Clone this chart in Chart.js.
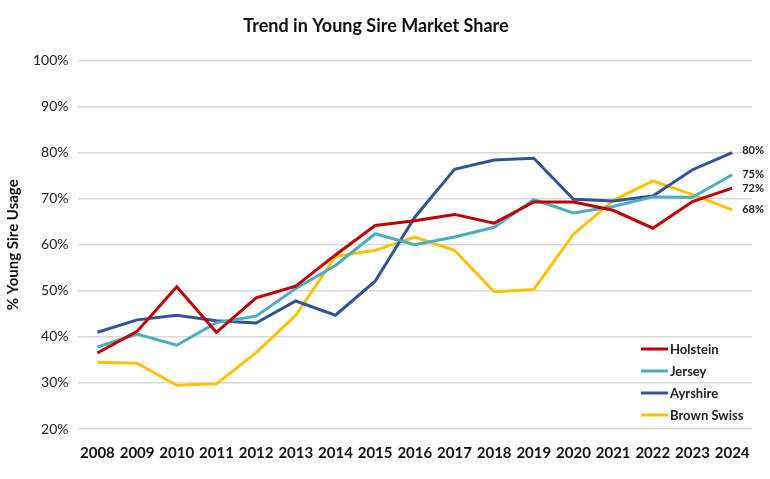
<!DOCTYPE html>
<html>
<head>
<meta charset="utf-8">
<script src="https://cdn.jsdelivr.net/npm/chart.js@4/dist/chart.umd.min.js"></script>
<style>
html,body{margin:0;padding:0;background:#fff;}
#wrap{width:770px;height:479px;position:relative;}
</style>
</head>
<body>
<div id="wrap"><canvas id="c" width="770" height="479"></canvas></div>
<script>
const years = ['2008','2009','2010','2011','2012','2013','2014','2015','2016','2017','2018','2019','2020','2021','2022','2023','2024'];
const holstein   = [36.5,41.2,50.9,41.0,48.5,51.0,57.8,64.2,65.2,66.6,64.7,69.3,69.3,67.5,63.6,69.4,72.3];
const jersey     = [37.8,40.6,38.2,43.1,44.5,50.5,55.5,62.4,60.0,61.7,63.8,69.8,66.9,68.3,70.4,70.3,75.2];
const ayrshire   = [41.0,43.7,44.7,43.5,43.0,47.8,44.7,52.1,66.0,76.4,78.4,78.8,69.9,69.5,70.6,76.3,80.0];
const brownSwiss = [34.5,34.3,29.5,29.8,36.6,44.7,57.5,58.8,61.7,58.8,49.8,50.3,62.3,69.6,73.9,70.9,67.6];
const endLabels  = ['72%','75%','80%','68%'];
const seriesNames = ['Holstein','Jersey','Ayrshire','Brown Swiss'];
const colors = ['#C00000','#4BACC6','#2F5597','#FFC000'];
const FONT = 'Lato, "Open Sans", sans-serif';

const endLabelPlugin = {
  id: 'endLabels',
  afterDatasetsDraw(chart) {
    const ctx = chart.ctx;
    ctx.save();
    ctx.font = 'bold 11px ' + FONT;
    ctx.fillStyle = '#222';
    ctx.textAlign = 'left';
    ctx.textBaseline = 'middle';
    const offsets = [0, 0, -2, 0];
    chart.data.datasets.forEach((ds, i) => {
      const meta = chart.getDatasetMeta(i);
      const pt = meta.data[meta.data.length - 1];
      ctx.fillText(endLabels[i], pt.x + 10, pt.y + offsets[i]);
    });
    ctx.restore();
  }
};

const legendPlugin = {
  id: 'customLegend',
  afterDraw(chart) {
    const ctx = chart.ctx;
    ctx.save();
    ctx.font = 'bold 13px ' + FONT;
    ctx.textBaseline = 'middle';
    ctx.textAlign = 'left';
    const x0 = 641, y0 = 349, dy = 22;
    chart.data.datasets.forEach((ds, i) => {
      const y = y0 + i * dy;
      ctx.strokeStyle = ds.borderColor;
      ctx.lineWidth = 3;
      ctx.beginPath();
      ctx.moveTo(x0, y);
      ctx.lineTo(x0 + 27, y);
      ctx.stroke();
      ctx.fillStyle = '#222';
      ctx.fillText(ds.label, x0 + 29, y + 1);
    });
    ctx.restore();
  }
};

const seriesData = [holstein, jersey, ayrshire, brownSwiss];

new Chart(document.getElementById('c'), {
  type: 'line',
  data: {
    labels: years,
    datasets: seriesData.map((d, i) => ({
      label: seriesNames[i],
      data: d,
      borderColor: colors[i],
      backgroundColor: colors[i],
      borderWidth: 3,
      pointRadius: 0,
      tension: 0,
      fill: false
    }))
  },
  options: {
    responsive: false,
    animation: false,
    layout: { padding: { left: 0, right: 18, top: 0, bottom: 10 } },
    plugins: {
      legend: { display: false },
      tooltip: { enabled: false },
      title: {
        display: true,
        text: 'Trend in Young Sire Market Share',
        color: '#111',
        font: { family: FONT, size: 18, weight: 'bold' },
        padding: { top: 15, bottom: 24 }
      }
    },
    scales: {
      x: {
        offset: true,
        grid: { display: false },
        border: { display: false },
        ticks: {
          color: '#111',
          font: { family: FONT, size: 15, weight: 'bold' },
          maxRotation: 0, autoSkip: false, padding: 7
        }
      },
      y: {
        min: 20, max: 100,
        grid: { color: '#D9D9D9', lineWidth: 1.5, drawTicks: false },
        border: { display: false },
        ticks: {
          stepSize: 10,
          color: '#222',
          padding: 9,
          font: { family: FONT, size: 14 },
          callback: v => v + '%'
        },
        title: {
          display: true,
          text: '% Young Sire Usage',
          color: '#111',
          font: { family: FONT, size: 15, weight: 'bold' },
          padding: { bottom: 2 }
        }
      }
    }
  },
  plugins: [endLabelPlugin, legendPlugin]
});
</script>
</body>
</html>
